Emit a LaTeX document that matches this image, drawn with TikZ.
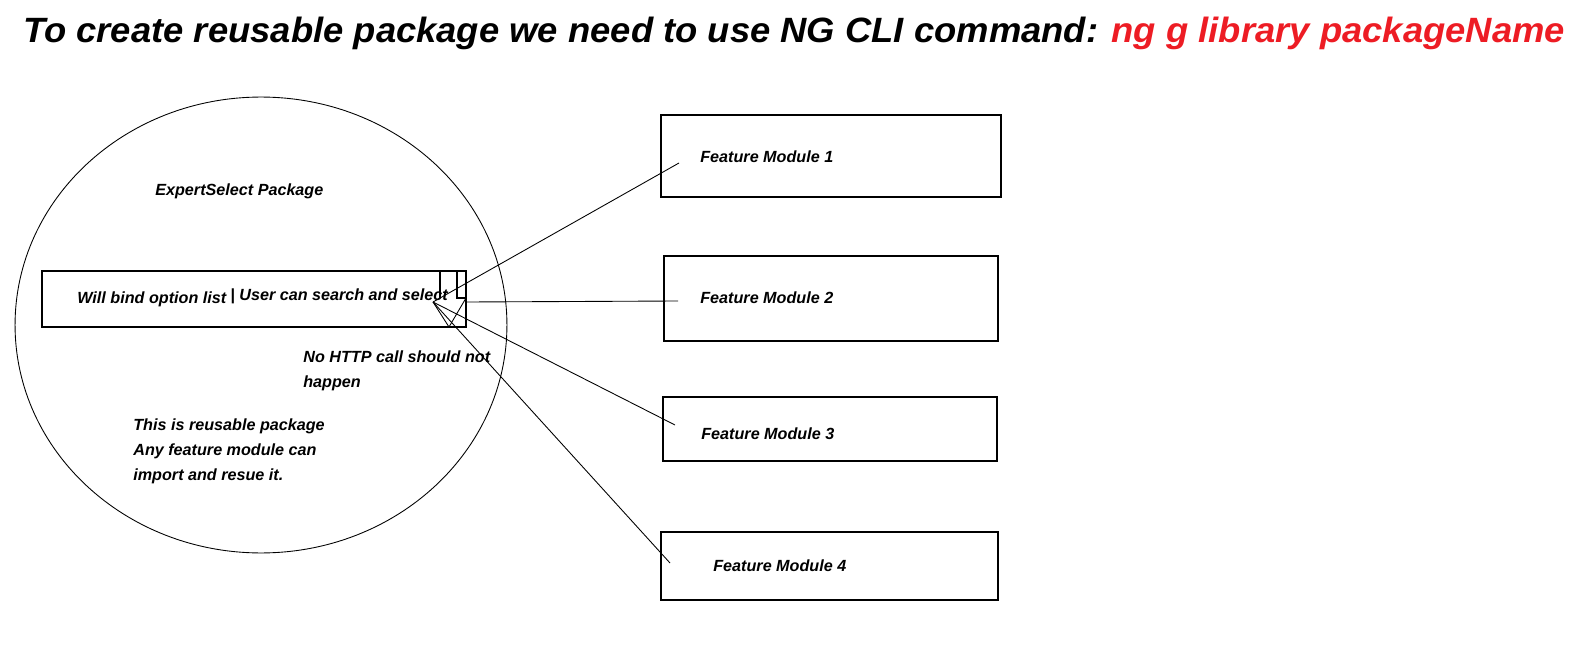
\documentclass[tikz,border=0pt]{standalone}
\usepackage{fontspec}
\setmainfont{Liberation Sans}
\usetikzlibrary{shapes.geometric,positioning}
\definecolor{titleRed}{RGB}{237,28,36}
\definecolor{lineGray}{RGB}{0,0,0}

\begin{document}
\begin{tikzpicture}[
  x=0.02cm,
  y=-0.02cm,
  wire/.style={draw=lineGray, line width=0.5pt},
  frame/.style={draw=black, line width=0.65pt},
  txt/.style={font=\fontsize{9.2}{14.2}\selectfont\bfseries\itshape, anchor=base west, inner sep=0pt, align=left},
  heading/.style={font=\fontsize{20}{24}\selectfont\bfseries\itshape, anchor=base west, inner sep=0pt}
]
  \useasboundingbox (0,0) rectangle (1583,652);

  % title
  \node[heading] (title) at (23,43) {\scalebox{1.036}[1]{To create reusable package we need to use NG CLI command: \textcolor{titleRed}{ng g library packageName}}};

  % package circle
  \node[ellipse, draw, line width=0.5pt, minimum width=9.84cm, minimum height=9.12cm] (pkg) at (261,325) {};
  \node[txt] (pkgName) at (155,195) {ExpertSelect Package};

  % select box with dropdown
  \draw[frame] (42,271) rectangle (466,327);
  \node[txt] (bindText) at (77,303) {Will bind option list};
  \node[txt] (searchText) at (230,300) {| User can search and select};
  \draw[frame] (440,298) -- (440,271) -- (457,271) -- (457,298) -- (466,298);
  \coordinate (tip) at (433,302);
  \coordinate (dropR) at (466,302);
  \draw[wire] (tip) -- (449,327) -- (466,298);

  % last baseline of each block
  \node[txt] (noHttp) at (303,387) {No HTTP call should not\\happen};
  \node[txt] (reuse) at (133,480) {This is reusable package\\Any feature module can\\import and resue it.};

  % feature modules
  \draw[frame] (661,115) rectangle (1001,197);
  \draw[frame] (664,256) rectangle (998,341);
  \draw[frame] (663,397) rectangle (997,461);
  \draw[frame] (661,532) rectangle (998,600);
  \node[txt] (fm1) at (700,163) {Feature Module 1};
  \node[txt] (fm2) at (700,303) {Feature Module 2};
  \node[txt] (fm3) at (701,439) {Feature Module 3};
  \node[txt] (fm4) at (713,571) {Feature Module 4};

  % connectors
  \coordinate (end1) at (679,163);
  \coordinate (end2) at (678,301);
  \coordinate (end3) at (675,425);
  \coordinate (end4) at (670,563);
  \draw[wire] (tip) -- (end1);
  \draw[wire] (dropR) -- (end2);
  \draw[wire] (tip) -- (end3);
  \draw[wire] (tip) -- (end4);
\end{tikzpicture}
\end{document}
